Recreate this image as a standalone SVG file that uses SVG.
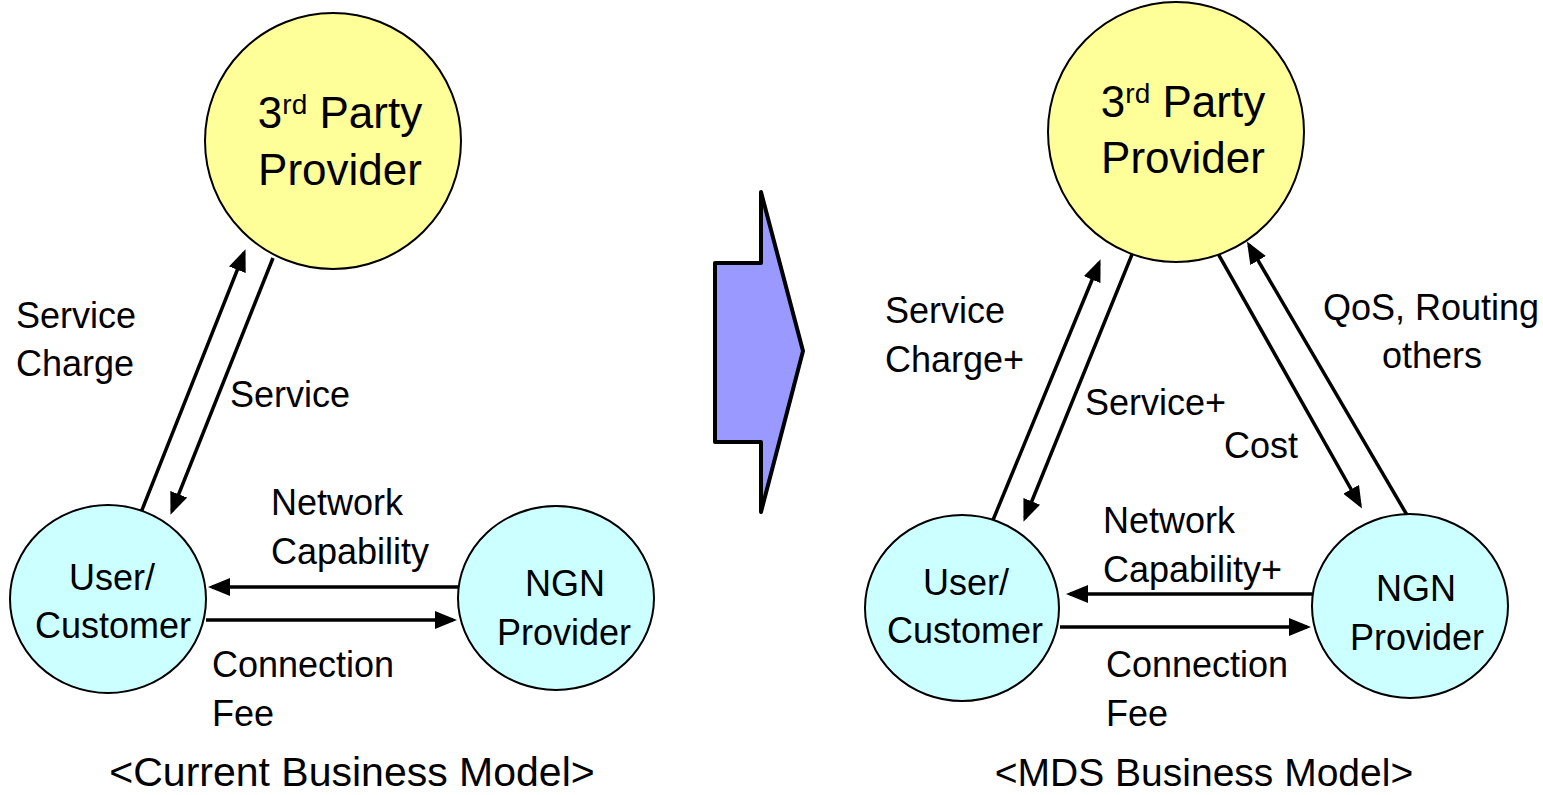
<svg xmlns="http://www.w3.org/2000/svg" width="1543" height="795" viewBox="0 0 1543 795">
<style>
text{font-family:"Liberation Sans",Arial,sans-serif;fill:#000}
.n{font-size:36px}
.big{font-size:44px}
.t{font-size:41px}
.y{fill:#FFFF99;stroke:#000;stroke-width:2}
.c{fill:#CCFFFF;stroke:#000;stroke-width:2}
.a{stroke:#000;stroke-width:3.5;fill:none;marker-end:url(#ah)}
</style>
<defs>
<marker id="ah" viewBox="0 0 22 18" refX="18" refY="9" markerWidth="22" markerHeight="18" markerUnits="userSpaceOnUse" orient="auto">
<path d="M0,0 L22,9 L0,18 z" fill="#000"/>
</marker>
</defs>
<rect width="1543" height="795" fill="#fff"/>

<g id="connectors">
<line class="a" x1="140" y1="515" x2="244" y2="253"/>
<line class="a" x1="273" y1="258" x2="172" y2="511"/>
<line class="a" x1="458" y1="587" x2="212" y2="587"/>
<line class="a" x1="206" y1="620" x2="453" y2="620"/>

<line class="a" x1="993" y1="520" x2="1099" y2="263"/>
<line class="a" x1="1133" y1="252" x2="1025" y2="518"/>
<line class="a" x1="1216" y1="250" x2="1360" y2="505"/>
<line class="a" x1="1407" y1="515" x2="1249" y2="245"/>
<line class="a" x1="1312" y1="594" x2="1070" y2="594"/>
<line class="a" x1="1060" y1="627" x2="1307" y2="627"/>
</g>

<g id="left-3rd-party">
<ellipse class="y" cx="333" cy="141" rx="128" ry="128"/>
<text class="big" x="340" y="128" text-anchor="middle">3<tspan font-size="28" dy="-14">rd</tspan><tspan dy="14"> Party</tspan></text>
<text class="big" x="340" y="185" text-anchor="middle">Provider</text>
</g>
<g id="left-user">
<ellipse class="c" cx="108" cy="599" rx="98" ry="94"/>
<text class="n" x="112" y="590" text-anchor="middle">User/</text>
<text class="n" x="113" y="638" text-anchor="middle">Customer</text>
</g>
<g id="left-ngn">
<ellipse class="c" cx="556" cy="598" rx="98" ry="92"/>
<text class="n" x="565" y="596" text-anchor="middle">NGN</text>
<text class="n" x="564" y="645" text-anchor="middle">Provider</text>
</g>
<g id="left-labels">
<text class="n" x="16" y="328">Service</text>
<text class="n" x="16" y="376">Charge</text>
<text class="n" x="230" y="407">Service</text>
<text class="n" x="271" y="515">Network</text>
<text class="n" x="271" y="564">Capability</text>
<text class="n" x="212" y="677">Connection</text>
<text class="n" x="212" y="726">Fee</text>
<text class="t" x="352" y="786" text-anchor="middle">&lt;Current Business Model&gt;</text>
</g>

<g id="transition-arrow">
<polygon points="715,263 761,263 761,192 803,351 761,512 761,442 715,442" fill="#9999FF" stroke="#000" stroke-width="4" stroke-linejoin="round"/>
</g>

<g id="right-3rd-party">
<ellipse class="y" cx="1176" cy="132" rx="128" ry="130"/>
<text class="big" x="1183" y="117" text-anchor="middle">3<tspan font-size="28" dy="-14">rd</tspan><tspan dy="14"> Party</tspan></text>
<text class="big" x="1183" y="173" text-anchor="middle">Provider</text>
</g>
<g id="right-user">
<ellipse class="c" cx="962" cy="608" rx="97" ry="93"/>
<text class="n" x="966" y="595" text-anchor="middle">User/</text>
<text class="n" x="965" y="643" text-anchor="middle">Customer</text>
</g>
<g id="right-ngn">
<ellipse class="c" cx="1410" cy="606" rx="98" ry="92"/>
<text class="n" x="1416" y="601" text-anchor="middle">NGN</text>
<text class="n" x="1417" y="650" text-anchor="middle">Provider</text>
</g>
<g id="right-labels">
<text class="n" x="885" y="323">Service</text>
<text class="n" x="885" y="372">Charge+</text>
<text class="n" x="1085" y="415">Service+</text>
<text class="n" x="1224" y="458">Cost</text>
<text class="n" x="1431" y="320" text-anchor="middle">QoS, Routing</text>
<text class="n" x="1432" y="368" text-anchor="middle">others</text>
<text class="n" x="1103" y="533">Network</text>
<text class="n" x="1103" y="582">Capability+</text>
<text class="n" x="1106" y="677">Connection</text>
<text class="n" x="1106" y="726">Fee</text>
<text class="t" x="1204" y="786" text-anchor="middle" font-size="39px" style="font-size:39px">&lt;MDS Business Model&gt;</text>
</g>
</svg>
